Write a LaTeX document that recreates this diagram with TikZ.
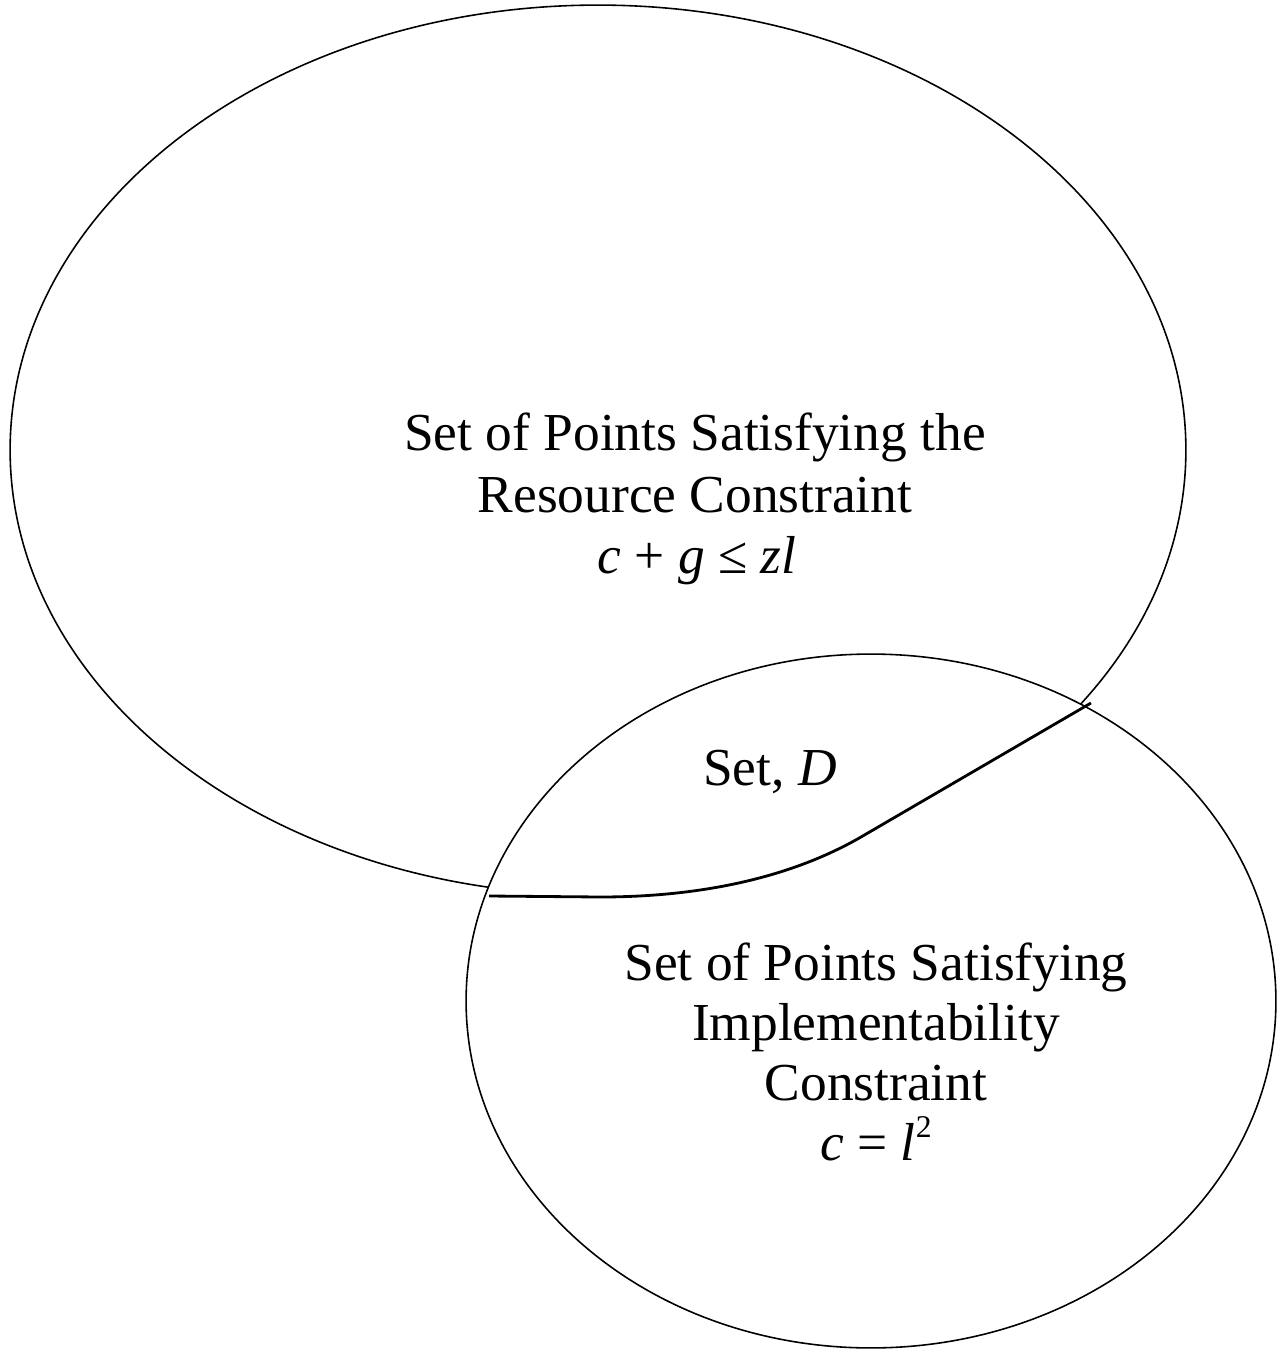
\documentclass[tikz,border=0pt]{standalone}
\usepackage{fontspec}
\setmainfont{Liberation Serif}
\usetikzlibrary{shapes.geometric}
\begin{document}
\begin{tikzpicture}[x=0.02cm,y=-0.02cm,
  setshape/.style={ellipse,draw,line width=0.9pt,inner sep=0pt},
  lbl/.style={anchor=base,inner sep=0pt,font=\fontsize{30.4}{35}\selectfont},
  boundary/.style={line width=1.6pt}]
\useasboundingbox (0,0) rectangle (1277,1351);
\begin{scope}[even odd rule]
  \clip (-10,-10) rectangle (1290,1360) (871,1001) ellipse [x radius=405, y radius=347];
  \node[setshape,minimum width=23.52cm,minimum height=17.8cm] (big) at (598,450) {};
\end{scope}
\node[setshape,minimum width=16.2cm,minimum height=13.88cm] (small) at (871,1001) {};
\coordinate (pa) at (489,896);
\coordinate (pb) at (1091,703);
\draw[boundary] (pa) -- (600,897) .. controls (700,897) and (790,878) .. (861,837) -- (pb);
\node[lbl] (res1) at (695,450) {Set of Points Satisfying the};
\node[lbl] (res2) at (695,512) {Resource Constraint};
\node[lbl] (res3) at (697,573) {\textit{c} + \textit{g} ≤ \textit{zl}};
\node[lbl] (d) at (770,785) {Set, \textit{D}};
\node[lbl] (imp1) at (876,980) {Set of Points Satisfying};
\node[lbl] (imp2) at (876,1040) {Implementability};
\node[lbl] (imp3) at (876,1100) {Constraint};
\node[lbl] (imp4) at (876,1160) {\textit{c} = \textit{l}\raisebox{0.42em}{\fontsize{18}{18}\selectfont 2}};
\end{tikzpicture}
\end{document}
